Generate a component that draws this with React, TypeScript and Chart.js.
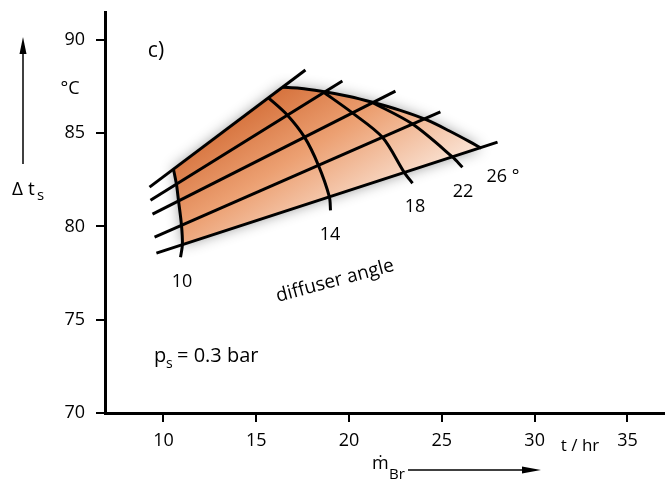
import React, { useEffect, useRef } from "react";
import { Chart, registerables } from "chart.js";

Chart.register(...registerables);

// ---- axis ticks ----
const xTicks = [10, 15, 20, 25, 30, 35];
const yTicks = [70, 75, 80, 85, 90];

// ---- straight grid lines (x = m_Br [t/hr], y = Δt_s [°C]) ----
const line1 = [[9.25, 82.11], [17.65, 88.39]];
const line2 = [[9.3, 81.41], [19.64, 87.8]];
const line3 = [[9.41, 80.66], [22.5, 87.26]];
const line4 = [[9.52, 79.43], [24.92, 86.14]];
const line5 = [[9.62, 78.57], [28.0, 84.52]];

// ---- constant diffuser-angle curves ----
const angle10 = [[10.54, 83.07], [10.7, 82.26], [10.81, 81.39], [10.97, 80.08], [11.02, 79.04], [10.92, 78.35]];
const angle14 = [[15.66, 86.9], [16.68, 85.97], [17.6, 84.79], [18.35, 83.28], [18.94, 81.59], [19.0, 80.87]];
const angle18 = [[18.6, 87.22], [20.18, 86.09], [21.8, 84.78], [22.98, 82.89], [23.42, 82.32]];
const angle22 = [[21.26, 86.65], [23.42, 85.49], [25.57, 83.73], [26.11, 83.18]];
const angle26 = [[16.41, 87.46], [17.33, 87.41], [18.51, 87.25], [20.02, 86.97], [21.26, 86.66], [22.72, 86.24], [24.22, 85.7], [25.41, 85.12], [26.49, 84.55], [27.12, 84.2]];

const angleLabels = ["10", "14", "18", "22", "26 °"];

const FONT = '"Open Sans", "DejaVu Sans", sans-serif';

const toPts = (arr: number[][]) => arr.map(([x, y]) => ({ x, y }));

const shadePlugin = {
  id: "shade",
  beforeDatasetsDraw(chart: any) {
    const { ctx, scales } = chart;
    const sx = scales.x;
    const sy = scales.y;
    const poly = [angle10[0], ...angle26, angle10[4], angle10[3], angle10[2], angle10[1]].map(
      ([a, b]) => [sx.getPixelForValue(a), sy.getPixelForValue(b)]
    );
    let minX = Infinity, minY = Infinity, maxX = -Infinity, maxY = -Infinity;
    poly.forEach(([px, py]) => {
      minX = Math.min(minX, px); maxX = Math.max(maxX, px);
      minY = Math.min(minY, py); maxY = Math.max(maxY, py);
    });
    const w = maxX - minX, h = maxY - minY;
    const g = ctx.createLinearGradient(minX + 0.2 * w, minY, minX + 0.55 * w, maxY + 0.1 * h);
    g.addColorStop(0, "rgb(206,98,42)");
    g.addColorStop(0.45, "rgb(236,160,114)");
    g.addColorStop(1, "rgb(254,245,239)");
    ctx.save();
    ctx.beginPath();
    poly.forEach(([px, py], i) => (i === 0 ? ctx.moveTo(px, py) : ctx.lineTo(px, py)));
    ctx.closePath();
    ctx.shadowColor = "rgba(0,0,0,0.42)";
    ctx.shadowBlur = 14;
    ctx.fillStyle = g;
    ctx.fill();
    ctx.restore();
  },
  afterDraw(chart: any) {
    const { ctx } = chart;
    ctx.save();
    ctx.fillStyle = "#000";
    ctx.strokeStyle = "#000";
    ctx.textBaseline = "middle";
    ctx.textAlign = "center";
    const f = (s: number) => `${s}px ${FONT}`;

    // curve labels
    ctx.font = f(18);
    const labelPos = [[182, 282], [330, 235], [415, 207], [463, 192], [503, 177]];
    angleLabels.forEach((t, i) => ctx.fillText(t, labelPos[i][0], labelPos[i][1]));

    // diffuser angle (rotated)
    ctx.save();
    ctx.translate(335, 281);
    ctx.rotate((-15 * Math.PI) / 180);
    ctx.font = f(19);
    ctx.fillText("diffuser angle", 0, 0);
    ctx.restore();

    // panel label
    ctx.font = f(21);
    ctx.fillText("c)", 156, 51);

    // y unit
    ctx.font = f(18);
    ctx.fillText("°C", 70, 89);

    // y axis title Δ t_s
    ctx.textAlign = "left";
    ctx.textBaseline = "alphabetic";
    ctx.font = f(19);
    ctx.fillText("Δ t", 12, 195);
    ctx.font = f(15);
    ctx.fillText("s", 37, 200);

    // up arrow
    ctx.lineWidth = 1.5;
    ctx.beginPath();
    ctx.moveTo(23, 164);
    ctx.lineTo(23, 50);
    ctx.stroke();
    ctx.beginPath();
    ctx.moveTo(23, 37);
    ctx.lineTo(26.5, 54);
    ctx.lineTo(19.5, 54);
    ctx.closePath();
    ctx.fill();

    // p_s = 0.3 bar
    ctx.font = f(20);
    ctx.fillText("p", 154, 362);
    ctx.font = f(14);
    ctx.fillText("s", 166, 368);
    ctx.font = f(20);
    ctx.fillText("= 0.3 bar", 177, 362);

    // x unit
    ctx.textAlign = "center";
    ctx.textBaseline = "middle";
    ctx.font = f(17);
    ctx.fillText("t / hr", 580, 446);

    // x axis title ṁ_Br with arrow
    ctx.textAlign = "left";
    ctx.textBaseline = "alphabetic";
    ctx.font = f(18);
    ctx.fillText("ṁ", 372, 469);
    ctx.font = f(15);
    ctx.fillText("Br", 389, 479);
    ctx.lineWidth = 1.5;
    ctx.beginPath();
    ctx.moveTo(408, 470);
    ctx.lineTo(526, 470);
    ctx.stroke();
    ctx.beginPath();
    ctx.moveTo(541, 470);
    ctx.lineTo(522, 466.5);
    ctx.lineTo(522, 473.5);
    ctx.closePath();
    ctx.fill();
    ctx.restore();
  },
};

export default function App() {
  const ref = useRef<HTMLCanvasElement | null>(null);

  useEffect(() => {
    if (!ref.current) return;
    const straight = [line1, line2, line3, line4, line5];
    const curves = [angle10, angle14, angle18, angle22];
    const base = { showLine: true, borderColor: "#000", borderWidth: 3, pointRadius: 0 };
    const datasets: any[] = [
      ...straight.map((l) => ({ ...base, data: toPts(l), tension: 0 })),
      ...curves.map((c) => ({ ...base, data: toPts(c), tension: 0.3 })),
      { ...base, data: toPts(angle26), cubicInterpolationMode: "monotone" },
    ];
    const chart = new Chart(ref.current, {
      type: "scatter",
      data: { datasets },
      options: {
        animation: false,
        responsive: false,
        devicePixelRatio: 1,
        layout: { padding: { left: 0, right: 3, top: 12, bottom: 0 } },
        plugins: { legend: { display: false }, tooltip: { enabled: false } },
        scales: {
          x: {
            type: "linear",
            min: 6.85,
            max: 36.97,
            afterBuildTicks: (s: any) => {
              s.ticks = xTicks.map((v) => ({ value: v }));
            },
            afterFit: (s: any) => {
              s.height = 73;
              s.paddingLeft = 0;
              s.paddingRight = 0;
            },
            border: { display: true, color: "#000", width: 3 },
            grid: { display: true, drawOnChartArea: false, drawTicks: true, tickLength: 9, color: "#000", lineWidth: 2 },
            ticks: { color: "#000", font: { family: FONT, size: 18 }, padding: 8, autoSkip: false, maxRotation: 0 },
          },
          y: {
            type: "linear",
            min: 70,
            max: 91.5,
            afterBuildTicks: (s: any) => {
              s.ticks = yTicks.map((v) => ({ value: v }));
            },
            afterFit: (s: any) => {
              s.width = 105;
              s.paddingTop = 0;
              s.paddingBottom = 0;
            },
            border: { display: true, color: "#000", width: 3 },
            grid: { display: true, drawOnChartArea: false, drawTicks: true, tickLength: 9, color: "#000", lineWidth: 2 },
            ticks: { color: "#000", font: { family: FONT, size: 18 }, padding: 11, autoSkip: false },
          },
        },
      },
      plugins: [shadePlugin],
    } as any);
    return () => chart.destroy();
  }, []);

  return (
    <div style={{ position: "fixed", left: 0, top: 0, width: 667, height: 486, background: "#fff" }}>
      <canvas ref={ref} width={667} height={486} style={{ display: "block" }} />
    </div>
  );
}
